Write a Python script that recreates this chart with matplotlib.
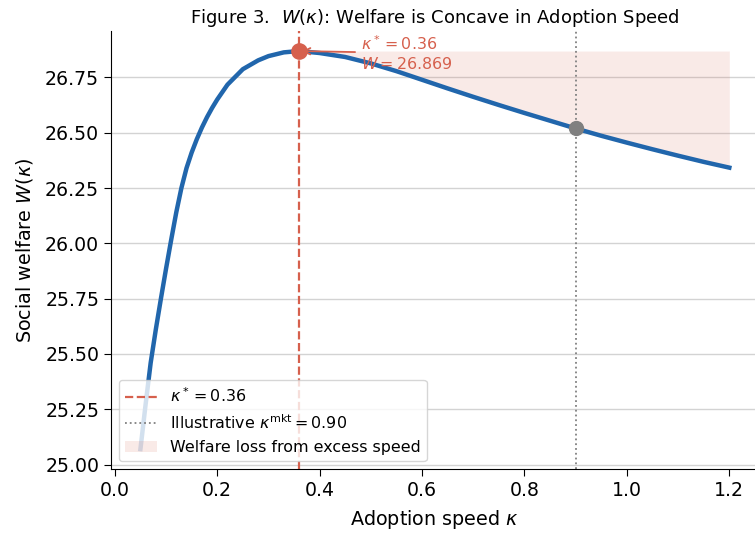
import numpy as np
import matplotlib
matplotlib.use("Agg")
import matplotlib.pyplot as plt

# welfare curve
kappa = [0.05, 0.06, 0.07, 0.08, 0.09, 0.10, 0.11, 0.12, 0.13, 0.14,
         0.15, 0.16, 0.17, 0.18, 0.19, 0.20, 0.22, 0.25, 0.28, 0.30,
         0.33, 0.36, 0.40, 0.45, 0.50, 0.55, 0.60, 0.65, 0.70, 0.75,
         0.80, 0.85, 0.90, 0.95, 1.00, 1.05, 1.10, 1.15, 1.20]
welfare = [25.07, 25.27, 25.46, 25.61, 25.75, 25.885, 26.015, 26.14, 26.25, 26.34,
           26.41, 26.47, 26.523, 26.57, 26.612, 26.65, 26.717, 26.787, 26.827, 26.846,
           26.863, 26.869, 26.860, 26.842, 26.813, 26.778, 26.739, 26.700, 26.662, 26.625,
           26.589, 26.554, 26.519, 26.486, 26.455, 26.425, 26.396, 26.368, 26.342]

k_star = 0.36
w_star = 26.869
k_mkt = 0.90
w_mkt = 26.519

blue = "#2166ac"
red = "#d6604d"

kappa = np.array(kappa)
welfare = np.array(welfare)

fig = plt.figure(figsize=(7.55, 5.34), dpi=100)
ax = fig.add_axes([0.147, 0.1217, 0.858, 0.820])

# shaded loss region to the right of the optimum
mask = kappa >= k_star
fill = ax.fill_between(kappa[mask], welfare[mask], w_star, color=red, alpha=0.13,
                       linewidth=0, label="Welfare loss from excess speed", zorder=1)

ax.plot(kappa, welfare, color=blue, lw=3.2, zorder=3)

vl1 = ax.axvline(k_star, color=red, ls="--", lw=1.6, zorder=2,
                 label=r"$\kappa^* = 0.36$")
vl2 = ax.axvline(k_mkt, color="gray", ls=":", lw=1.3, zorder=2,
                 label=r"Illustrative $\kappa^{\mathrm{mkt}} = 0.90$")

ax.plot([k_star], [w_star], "o", color=red, ms=11, zorder=5)
ax.plot([k_mkt], [w_mkt], "o", color="gray", ms=10, zorder=5)

ax.annotate(r"$\kappa^* = 0.36$" + "\n" + r"$W = 26.869$",
            xy=(k_star, w_star), xytext=(0.48, 26.86),
            ha="left", va="center", color=red, fontsize=11.4,
            arrowprops=dict(arrowstyle="->", color=red, lw=1.3))

ax.grid(axis="y", color="#d3d3d3", lw=1.0)
ax.set_axisbelow(True)
ax.spines["top"].set_visible(False)
ax.spines["right"].set_visible(False)

ax.set_yticks([25.00, 25.25, 25.50, 25.75, 26.00, 26.25, 26.50, 26.75])
ax.set_yticklabels(["25.00", "25.25", "25.50", "25.75", "26.00", "26.25", "26.50", "26.75"])
ax.set_xticks([0.0, 0.2, 0.4, 0.6, 0.8, 1.0, 1.2])
ax.tick_params(labelsize=13.6, length=5)

ax.set_xlabel(r"Adoption speed $\kappa$", fontsize=13.8, labelpad=6)
ax.set_ylabel(r"Social welfare $W(\kappa)$", fontsize=13.8, labelpad=7)
ax.set_title(r"Figure 3.  $W(\kappa)$: Welfare is Concave in Adoption Speed",
             fontsize=13.0)

ax.legend(handles=[vl1, vl2, fill], loc="lower left", fontsize=11.4)

fig.savefig("out.png", dpi=100)
